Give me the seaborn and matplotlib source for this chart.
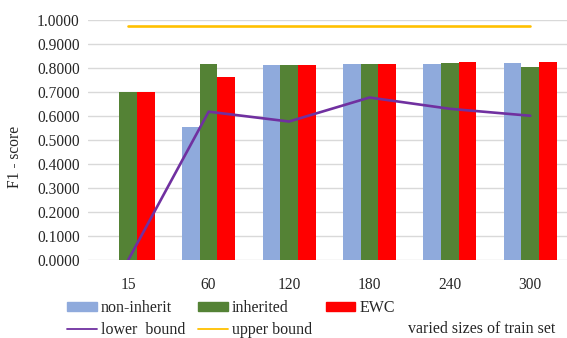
import pandas as pd
import seaborn as sns
import matplotlib.pyplot as plt
from matplotlib.patches import Patch
from matplotlib.lines import Line2D

# data
sizes = ["15", "60", "120", "180", "240", "300"]
non_inherit = [0.0, 0.556, 0.814, 0.816, 0.815, 0.820]
inherited = [0.700, 0.815, 0.812, 0.816, 0.822, 0.806]
ewc = [0.700, 0.764, 0.811, 0.816, 0.823, 0.824]
lower_bound = [0.0, 0.618, 0.577, 0.677, 0.630, 0.601]
upper_bound = [0.976, 0.976, 0.976, 0.976, 0.976, 0.976]

series = ["non-inherit", "inherited", "EWC"]
colors = ["#8faadc", "#548235", "#ff0000"]

df = pd.DataFrame({
    "size": sizes * 3,
    "f1": non_inherit + inherited + ewc,
    "model": [s for s in series for _ in sizes],
})

sns.set_style("white")
plt.rcParams["font.family"] = ["Liberation Serif", "DejaVu Serif"]
plt.rcParams["font.size"] = 11

fig = plt.figure(figsize=(5.67, 3.38), dpi=100)
# axis runs a little past the right edge of the picture, as in the original
ax = fig.add_axes([88 / 567, 1 - 260 / 338, 482.5 / 567, 240 / 338])

sns.barplot(data=df, x="size", y="f1", hue="model", order=sizes,
            hue_order=series, palette=colors, saturation=1, width=0.66,
            linewidth=0, ax=ax, legend=False)

pos = list(range(len(sizes)))
sns.lineplot(x=pos, y=lower_bound, color="#7030a0", linewidth=1.9, ax=ax)
sns.lineplot(x=pos, y=upper_bound, color="#ffc000", linewidth=1.9, ax=ax)

ax.set_xlim(-0.5, 5.5)
ax.set_ylim(0, 1.0)
ax.set_xticks(pos)
ax.set_xticklabels(sizes)
ax.set_yticks([i / 10 for i in range(11)])
ax.set_yticklabels(["%.4f" % (i / 10) for i in range(11)])
ax.yaxis.grid(True, color="#d9d9d9", linewidth=1)
ax.set_axisbelow(True)
for sp in ax.spines.values():
    sp.set_visible(False)
ax.tick_params(axis="both", length=0, labelsize=11.2)
ax.tick_params(axis="x", pad=12)
ax.tick_params(axis="y", pad=6)
ax.set_xlabel("")
ax.set_ylabel("")

fig.text(15 / 567, 1 - 157 / 338, "F1 - score", rotation=90,
         va="center", ha="center", fontsize=11.2)

handles = [Patch(color=colors[0]), Line2D([], [], color="#7030a0", lw=1.3),
           Patch(color=colors[1]), Line2D([], [], color="#ffc000", lw=1.3),
           Patch(color=colors[2])]
labels = ["non-inherit", "lower  bound", "inherited", "upper bound", "EWC"]
fig.legend(handles, labels, ncol=3, loc="upper left",
           bbox_to_anchor=(67 / 567, 1 - 300 / 338), frameon=False,
           borderpad=0, borderaxespad=0, handlelength=1.85,
           handleheight=0.5, handletextpad=0.25, columnspacing=0.85,
           labelspacing=0.4, fontsize=11.5)
fig.text(408 / 567, 1 - 329 / 338, "varied sizes of train set",
         va="center", ha="left", fontsize=11.5)

fig.savefig("out.png", dpi=100)
